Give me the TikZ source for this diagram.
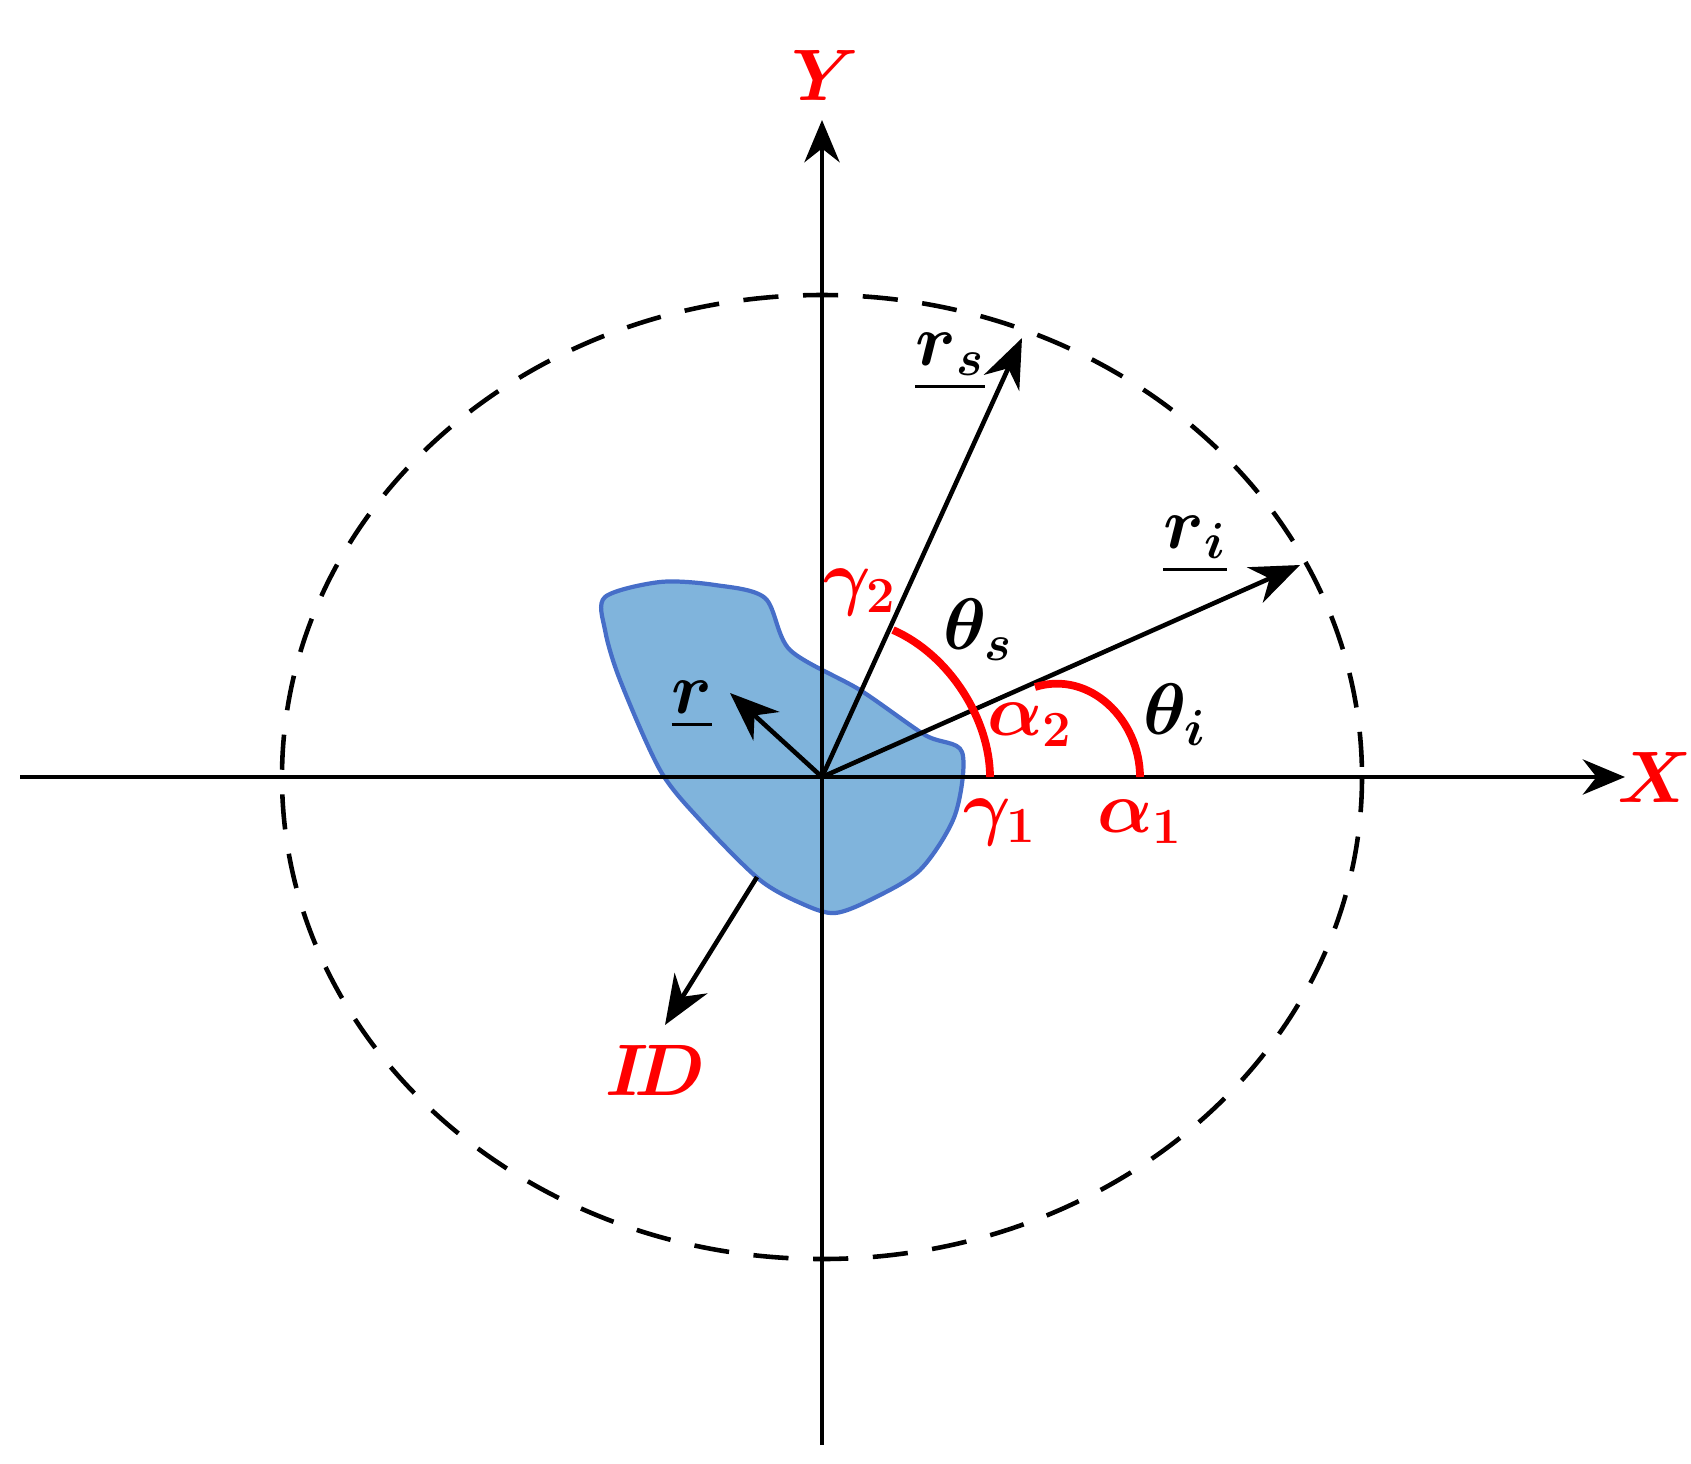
\documentclass[tikz,border=0pt]{standalone}
\usepackage{amsmath,amssymb}
\usepackage{xcolor}
\usetikzlibrary{arrows.meta, positioning}
\definecolor{blobfill}{RGB}{128,180,220}
\definecolor{blobline}{RGB}{70,110,200}
\tikzset{axis/.style={line width=1.3pt, -{Stealth[length=12pt,width=10pt]}}}
\tikzset{vec/.style={line width=1.3pt, -{Stealth[length=14pt,width=11pt]}}}
\tikzset{ang/.style={red, line width=2.2pt}}
\tikzset{lbl/.style={font=\fontsize{22}{26}\selectfont}}
\tikzset{rlbl/.style={lbl, text=red}}
\begin{document}
\begin{tikzpicture}[x=0.01cm, y=-0.01cm]
  \useasboundingbox (0,0) rectangle (1691,1463);
  \coordinate (o) at (822,777);

  % blob
  \draw[fill=blobfill, draw=blobline, line width=1.2pt]
    plot[smooth cycle, tension=0.5] coordinates {(605,597) (660,582) (715,585) (765,598) (790,650) (860,690) (925,735) (962,752) (955,815) (920,870) (870,900) (835,913) (805,905) (760,880) (700,820) (660,770) (620,680) (605,630)};

  % ellipse
  \draw[dashed, line width=1.3pt, dash pattern=on 10pt off 7pt] (o) ellipse (540 and 482);

  % axes
  \coordinate (xs) at (20,777);
  \coordinate (xe) at (1625,777);
  \coordinate (ys) at (822,1445);
  \coordinate (ye) at (822,120);
  \draw[axis] (xs) -- (xe);
  \draw[axis] (ys) -- (ye);
  \node[rlbl] (X) at (1655,777) {$\boldsymbol{X}$};
  \node[rlbl] (Y) at (825,75) {$\boldsymbol{Y}$};

  % vectors
  \coordinate (s) at (1022,338);
  \coordinate (i) at (1300,565);
  \coordinate (r) at (730,693);
  \coordinate (d0) at (757,877);
  \coordinate (d1) at (665,1025);
  \draw[vec] (o) -- (s);
  \draw[vec] (o) -- (i);
  \draw[vec] (o) -- (r);
  \draw[vec] (d0) -- (d1);

  % angle arcs
  \draw[ang] (893,630) .. controls (950,655) and (990,720) .. (990,777);
  \draw[ang] (1035,687) .. controls (1090,670) and (1140,720) .. (1140,777);

  % labels
  \node[lbl] (rs) at (950,362) {$\underline{\boldsymbol{r}_{\boldsymbol{s}}}$};
  \node[lbl] (ri) at (1195,545) {$\underline{\boldsymbol{r}_{\boldsymbol{i}}}$};
  \node[lbl] (rr) at (692,705) {$\underline{\boldsymbol{r}}$};
  \node[rlbl] (ID) at (655,1070) {$\boldsymbol{I\!D}$};
  \node[rlbl] (g2) at (860,592) {$\boldsymbol{\gamma_2}$};
  \node[lbl] (ts) at (978,630) {$\boldsymbol{\theta_s}$};
  \node[rlbl] (a2) at (1030,725) {$\boldsymbol{\alpha_2}$};
  \node[lbl] (ti) at (1175,715) {$\boldsymbol{\theta_i}$};
  \node[rlbl] (g1) at (1000,822) {$\boldsymbol{\gamma_1}$};
  \node[rlbl] (a1) at (1140,822) {$\boldsymbol{\alpha_1}$};
\end{tikzpicture}
\end{document}
